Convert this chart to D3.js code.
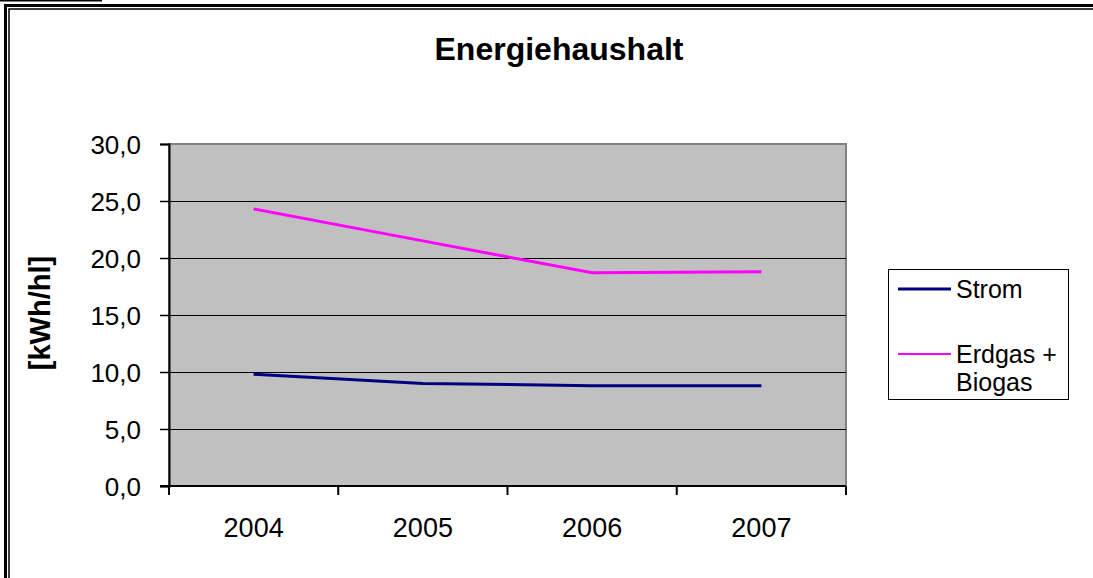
<!DOCTYPE html>
<html>
<head>
<meta charset="utf-8">
<script src="https://cdn.jsdelivr.net/npm/d3@7"></script>
<style>
  body { margin: 0; background: #fff; }
  text { font-family: "Liberation Sans", Arial, sans-serif; fill: #000; }
</style>
</head>
<body>
<div id="chart"></div>
<script>
// Chart data
const years = ["2004", "2005", "2006", "2007"];
const strom = [9.8, 9.0, 8.8, 8.8];
const erdgas = [24.3, 21.5, 18.7, 18.8];
const yTicks = [0, 5, 10, 15, 20, 25, 30];
const seriesNames = ["Strom", "Erdgas + Biogas"];

const W = 1093, H = 578;
const plot = { left: 169, top: 144, right: 846, bottom: 486 };

const svg = d3.select("#chart").append("svg")
  .attr("width", W).attr("height", H);

// outer double frame
svg.append("line").attr("x1", 0).attr("x2", 102).attr("y1", 0.5).attr("y2", 0.5)
  .attr("stroke", "#000").attr("stroke-width", 2);
svg.append("path").attr("d", "M5.5,600 V5.5 H1100")
  .attr("fill", "none").attr("stroke", "#000").attr("stroke-width", 3);
svg.append("path").attr("d", "M9,600 V9 H1100")
  .attr("fill", "none").attr("stroke", "#000").attr("stroke-width", 1.5);

// scales
const x = d3.scaleBand().domain(years).range([plot.left, plot.right]);
const y = d3.scaleLinear().domain([0, 30]).range([plot.bottom, plot.top]);

// plot area
svg.append("rect")
  .attr("x", plot.left).attr("y", plot.top)
  .attr("width", plot.right - plot.left).attr("height", plot.bottom - plot.top)
  .attr("fill", "#c0c0c0").attr("stroke", "#808080").attr("stroke-width", 2);

// gridlines
svg.append("g").selectAll("line")
  .data(yTicks.filter(d => d > 0 && d < 30))
  .join("line")
  .attr("x1", plot.left).attr("x2", plot.right)
  .attr("y1", d => Math.round(y(d)) + 0.5).attr("y2", d => Math.round(y(d)) + 0.5)
  .attr("stroke", "#000").attr("stroke-width", 1);

// y axis
const yAxis = d3.axisLeft(y).tickValues(yTicks).tickSize(9).tickPadding(19)
  .tickFormat(d => d3.format(".1f")(d).replace(".", ","));
const gy = svg.append("g").attr("transform", "translate(" + plot.left + ",0)").call(yAxis);
gy.select(".domain").attr("stroke", "#000").attr("stroke-width", 2);
gy.selectAll("line").attr("stroke", "#000").attr("stroke-width", 1.5);
gy.selectAll("text").style("font-size", "26px").attr("dy", "0.35em");

// x axis
const xAxis = d3.axisBottom(x).tickSize(0).tickPadding(32);
const gx = svg.append("g").attr("transform", "translate(0," + plot.bottom + ")").call(xAxis);
gx.select(".domain").remove();
gx.selectAll("text").style("font-size", "27px").attr("dy", "0.71em");
svg.append("line").attr("x1", plot.left - 9).attr("x2", plot.right)
  .attr("y1", plot.bottom).attr("y2", plot.bottom)
  .attr("stroke", "#000").attr("stroke-width", 2);
const bounds = years.map(d => x(d)).concat([plot.right]);
svg.append("g").selectAll("line").data(bounds).join("line")
  .attr("x1", d => d).attr("x2", d => d)
  .attr("y1", plot.bottom).attr("y2", plot.bottom + 9)
  .attr("stroke", "#000").attr("stroke-width", 2);

// lines
const line = d3.line()
  .x((d, i) => x(years[i]) + x.bandwidth() / 2)
  .y(d => y(d));
svg.append("path").datum(erdgas).attr("d", line)
  .attr("fill", "none").attr("stroke", "#ff00ff").attr("stroke-width", 3);
svg.append("path").datum(strom).attr("d", line)
  .attr("fill", "none").attr("stroke", "#000080").attr("stroke-width", 3);

// title
svg.append("text").attr("x", 559).attr("y", 60).attr("text-anchor", "middle")
  .style("font-size", "32px").style("font-weight", "bold").text("Energiehaushalt");

// y axis title
svg.append("text").attr("transform", "translate(50,313) rotate(-90)")
  .attr("text-anchor", "middle").style("font-size", "29px").style("font-weight", "bold")
  .text("[kWh/hl]");

// legend
const legend = svg.append("g");
legend.append("rect").attr("x", 888.5).attr("y", 269.5).attr("width", 180).attr("height", 130)
  .attr("fill", "#fff").attr("stroke", "#000").attr("stroke-width", 1);
legend.append("line").attr("x1", 898).attr("x2", 951).attr("y1", 289).attr("y2", 289)
  .attr("stroke", "#000080").attr("stroke-width", 3);
legend.append("text").attr("x", 956).attr("y", 298).style("font-size", "25px").text(seriesNames[0]);
legend.append("line").attr("x1", 898).attr("x2", 951).attr("y1", 354).attr("y2", 354)
  .attr("stroke", "#ff00ff").attr("stroke-width", 2);
legend.append("text").attr("x", 956).attr("y", 363).style("font-size", "25px").text("Erdgas +");
legend.append("text").attr("x", 956).attr("y", 391).style("font-size", "25px").text("Biogas");
</script>
</body>
</html>
